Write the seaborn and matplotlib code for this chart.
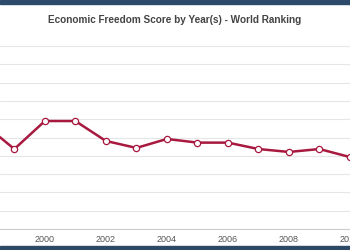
import matplotlib
matplotlib.use("Agg")
import matplotlib.pyplot as plt
import seaborn as sns
import pandas as pd

# values (score scale 0-100, gridlines every 10)
years = [1998, 1999, 2000, 2001, 2002, 2003, 2004, 2005, 2006, 2007, 2008, 2009, 2010]
scores = [57.4, 43.7, 59.0, 59.0, 48.1, 44.3, 49.2, 47.2, 47.2, 43.7, 42.1, 43.7, 39.3]
xticks = [2000, 2002, 2004, 2006, 2008, 2010]

df = pd.DataFrame({"year": years, "score": scores})

sns.set_style("white")
plt.rcParams["font.family"] = ["Liberation Sans", "DejaVu Sans"]

fig = plt.figure(figsize=(3.5, 2.5), dpi=100)
ax = fig.add_axes([0, 0.084, 1, 0.732])

sns.lineplot(data=df, x="year", y="score", ax=ax, color="#a8193f", lw=1.8,
             marker="o", markersize=4.5, markerfacecolor="white",
             markeredgecolor="#a8193f", markeredgewidth=0.9, clip_on=True)

ax.set_xlim(1998.53, 2009.97)
ax.set_ylim(0, 100)
ax.set_yticks(range(0, 101, 10))
ax.set_yticklabels([])
ax.tick_params(axis="y", length=0)
ax.set_xticks(xticks)
ax.set_xticklabels([str(t) for t in xticks])
ax.tick_params(axis="x", length=0, labelsize=6.5, labelcolor="#555555", pad=4)
ax.grid(axis="y", color="#e6e6e6", lw=0.8)
ax.set_xlabel("")
ax.set_ylabel("")
for s in ["top", "left", "right"]:
    ax.spines[s].set_visible(False)
ax.spines["bottom"].set_color("#cccccc")

fig.text(0.5, 0.92, "Economic Freedom Score by Year(s) - World Ranking",
         ha="center", va="center", fontsize=7.2, color="#444444", fontweight="bold")

# dark page bands at top and bottom edges
fig.patches.append(plt.Rectangle((0, 0.984), 1, 0.016, transform=fig.transFigure,
                                 color="#2b4a6c", zorder=5))
fig.patches.append(plt.Rectangle((0, 0), 1, 0.018, transform=fig.transFigure,
                                 color="#2e4966", zorder=5))

fig.savefig("out.png", dpi=100)
